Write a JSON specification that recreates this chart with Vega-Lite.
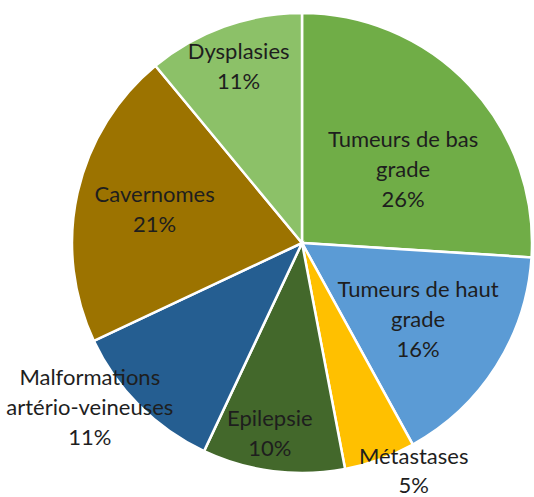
{
  "$schema": "https://vega.github.io/schema/vega-lite/v6.json",
  "autosize": "none",
  "width": 464,
  "height": 486,
  "padding": {"left": 70, "top": 0, "right": 0, "bottom": 11},
  "background": "white",
  "config": {"view": {"stroke": null}},
  "data": {
    "values": [
      {"idx": 1, "category": "Tumeurs de bas grade", "label": "Tumeurs de bas\ngrade\n26%", "pct": 26},
      {"idx": 2, "category": "Tumeurs de haut grade", "label": "Tumeurs de haut\ngrade\n16%", "pct": 16},
      {"idx": 3, "category": "Métastases", "label": "Métastases\n5%", "pct": 5},
      {"idx": 4, "category": "Epilepsie", "label": "Epilepsie\n10%", "pct": 10},
      {"idx": 5, "category": "Malformations artério-veineuses", "label": "Malformations\nartério-veineuses\n11%", "pct": 11},
      {"idx": 6, "category": "Cavernomes", "label": "Cavernomes\n21%", "pct": 21},
      {"idx": 7, "category": "Dysplasies", "label": "Dysplasies\n11%", "pct": 11}
    ]
  },
  "transform": [
    {"stack": "pct", "groupby": [], "sort": [{"field": "idx", "order": "ascending"}], "as": ["s0", "s1"]},
    {"calculate": "(datum.s0 + datum.s1) / 2", "as": "mid"}
  ],
  "encoding": {
    "color": {
      "field": "category",
      "type": "nominal",
      "legend": null,
      "scale": {
        "domain": ["Tumeurs de bas grade", "Tumeurs de haut grade", "Métastases", "Epilepsie", "Malformations artério-veineuses", "Cavernomes", "Dysplasies"],
        "range": ["#70AD47", "#5B9BD5", "#FFC000", "#43682B", "#255E91", "#9C7300", "#8CC168"]
      }
    }
  },
  "layer": [
    {
      "mark": {"type": "arc", "outerRadius": 230, "stroke": "white", "strokeWidth": 2.5},
      "encoding": {
        "theta": {"field": "s0", "type": "quantitative", "scale": {"domain": [0, 100]}},
        "theta2": {"field": "s1"}
      }
    },
    {
      "transform": [{"filter": "datum.idx == 1"}],
      "mark": {"type": "text", "radius": 125, "dx": 10, "dy": -17, "font": "Lato", "fontSize": 22, "lineHeight": 30, "lineBreak": "\n", "baseline": "middle", "align": "center"},
      "encoding": {"theta": {"field": "mid", "type": "quantitative"}, "text": {"field": "label"}, "color": {"value": "#1e1e1e"}}
    },
    {
      "transform": [{"filter": "datum.idx == 2"}],
      "mark": {"type": "text", "radius": 141, "dx": -3, "dy": -29, "font": "Lato", "fontSize": 22, "lineHeight": 30, "lineBreak": "\n", "baseline": "middle", "align": "center"},
      "encoding": {"theta": {"field": "mid", "type": "quantitative"}, "text": {"field": "label"}, "color": {"value": "#1e1e1e"}}
    },
    {
      "transform": [{"filter": "datum.idx == 3"}],
      "mark": {"type": "text", "radius": 256, "dx": 25, "dy": -27, "font": "Lato", "fontSize": 22, "lineHeight": 29, "lineBreak": "\n", "baseline": "middle", "align": "center"},
      "encoding": {"theta": {"field": "mid", "type": "quantitative"}, "text": {"field": "label"}, "color": {"value": "#1e1e1e"}}
    },
    {
      "transform": [{"filter": "datum.idx == 4"}],
      "mark": {"type": "text", "radius": 193, "dx": -8, "dy": -15, "font": "Lato", "fontSize": 22, "lineHeight": 30, "lineBreak": "\n", "baseline": "middle", "align": "center"},
      "encoding": {"theta": {"field": "mid", "type": "quantitative"}, "text": {"field": "label"}, "color": {"value": "#1e1e1e"}}
    },
    {
      "transform": [{"filter": "datum.idx == 5"}],
      "mark": {"type": "text", "radius": 269, "dx": -22, "dy": -55, "font": "Lato", "fontSize": 22, "lineHeight": 30, "lineBreak": "\n", "baseline": "middle", "align": "center"},
      "encoding": {"theta": {"field": "mid", "type": "quantitative"}, "text": {"field": "label"}, "color": {"value": "#1e1e1e"}}
    },
    {
      "transform": [{"filter": "datum.idx == 6"}],
      "mark": {"type": "text", "radius": 151, "dy": -15, "font": "Lato", "fontSize": 22, "lineHeight": 30, "lineBreak": "\n", "baseline": "middle", "align": "center"},
      "encoding": {"theta": {"field": "mid", "type": "quantitative"}, "text": {"field": "label"}, "color": {"value": "#1e1e1e"}}
    },
    {
      "transform": [{"filter": "datum.idx == 7"}],
      "mark": {"type": "text", "radius": 187, "dy": -15, "font": "Lato", "fontSize": 22, "lineHeight": 30, "lineBreak": "\n", "baseline": "middle", "align": "center"},
      "encoding": {"theta": {"field": "mid", "type": "quantitative"}, "text": {"field": "label"}, "color": {"value": "#1e1e1e"}}
    }
  ]
}
